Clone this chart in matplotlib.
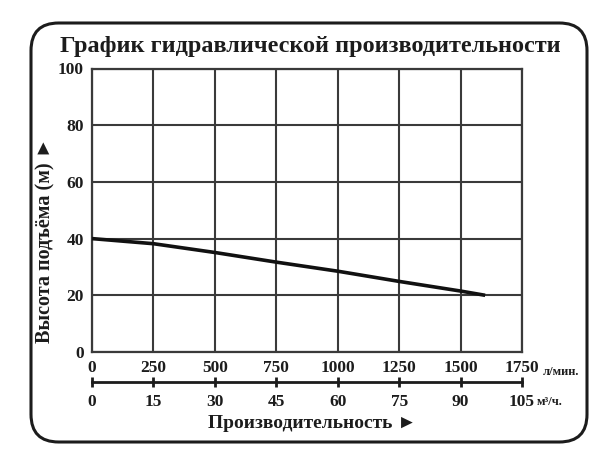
import matplotlib
matplotlib.use("Agg")
import matplotlib.pyplot as plt
from matplotlib.patches import FancyBboxPatch

# данные
flow_lpm = [0, 250, 500, 750, 1000, 1250, 1500, 1600]
head_m = [40, 38.2, 35.1, 31.7, 28.5, 24.9, 21.5, 20]

x_ticks = [0, 250, 500, 750, 1000, 1250, 1500, 1750]
y_ticks = [0, 20, 40, 60, 80, 100]
m3h_ticks = [0, 15, 30, 45, 60, 75, 90, 105]

W, H = 615, 467
SERIF = ['Liberation Serif', 'DejaVu Serif', 'DejaVu Sans']
INK = '#1c1c1c'
GRID = '#3a3a3a'


def fx(x):
    return x / W


def fy(y):
    return 1 - y / H


fig = plt.figure(figsize=(W / 100, H / 100), dpi=100)
fig.patch.set_facecolor('white')

# рамка со скруглёнными углами
frame = FancyBboxPatch((fx(31), fy(442)), fx(587) - fx(31), fy(23) - fy(442),
                       boxstyle="round,pad=0,rounding_size=0.045",
                       transform=fig.transFigure, fill=False,
                       edgecolor=INK, linewidth=2.2, mutation_aspect=W / H)
fig.patches.append(frame)

fig.text(fx(310), fy(52), 'График гидравлической производительности',
         ha='center', va='baseline', fontsize=17.5, fontweight='bold',
         family=SERIF, color=INK)

ax = fig.add_axes([fx(92), fy(352), fx(522) - fx(92), fy(68.5) - fy(352)])
ax.plot(flow_lpm, head_m, color='#111111', linewidth=2.6, solid_capstyle='butt', zorder=3)
ax.set_xlim(0, 1750)
ax.set_ylim(0, 100)
ax.set_xticks(x_ticks)
ax.set_yticks(y_ticks)
ax.grid(True, color=GRID, linewidth=1.5)
for s in ax.spines.values():
    s.set_color(GRID)
    s.set_linewidth(1.6)
ax.tick_params(length=0, pad=6, labelsize=12.5, labelcolor=INK)
for lab in ax.get_xticklabels() + ax.get_yticklabels():
    lab.set_fontweight('bold')
    lab.set_family(SERIF)

fig.text(fx(45), fy(240), 'Высота подъёма (м) ►', rotation=90,
         ha='center', va='center', fontsize=14.5, fontweight='bold',
         family=SERIF, color=INK)

# вторая шкала, м³/ч
ax2 = fig.add_axes([fx(92), fy(382), fx(522) - fx(92), 0.0001])
ax2.set_xlim(0, 105)
ax2.set_xticks(m3h_ticks)
ax2.set_yticks([])
for side in ['top', 'left', 'right']:
    ax2.spines[side].set_visible(False)
ax2.spines['bottom'].set_color(INK)
ax2.spines['bottom'].set_linewidth(2)
ax2.patch.set_visible(False)
ax2.tick_params(axis='x', direction='inout', length=7, width=2, color=INK,
                pad=5, labelsize=12.5, labelcolor=INK)
for lab in ax2.get_xticklabels():
    lab.set_fontweight('bold')
    lab.set_family(SERIF)

fig.text(fx(543), fy(372), 'л/мин.', ha='left', va='center', fontsize=9,
         fontweight='bold', family=SERIF, color=INK)
fig.text(fx(537), fy(402), 'м³/ч.', ha='left', va='center', fontsize=9,
         fontweight='bold', family=SERIF, color=INK)
fig.text(fx(312), fy(423), 'Производительность ►', ha='center', va='center',
         fontsize=14, fontweight='bold', family=SERIF, color=INK)

fig.savefig('out.png', dpi=100, facecolor='white')
